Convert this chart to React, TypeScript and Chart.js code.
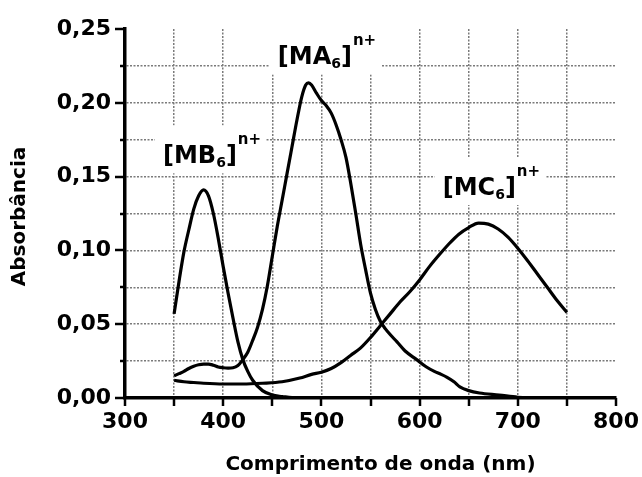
import { useEffect, useRef } from "react";
import { Chart, registerables } from "chart.js";

Chart.register(...registerables);

// ---- data ----
const mb6Wavelength = [350, 355, 360, 365, 370, 375, 380, 385, 390, 395, 400, 405, 410, 415, 420, 425, 430, 440, 450, 460, 475, 500];
const mb6Absorbance = [0.057, 0.079, 0.099, 0.114, 0.128, 0.137, 0.141, 0.137, 0.125, 0.108, 0.089, 0.071, 0.054, 0.038, 0.026, 0.018, 0.012, 0.005, 0.002, 0.001, 0.0, 0.0];

const ma6Wavelength = [350, 355, 360, 365, 370, 375, 380, 385, 390, 395, 400, 405, 410, 415, 420, 425, 430, 435, 440, 445, 450, 455, 460, 465, 470, 475, 480, 484, 487, 490, 495, 500, 505, 510, 515, 520, 525, 530, 535, 540, 545, 550, 555, 560, 565, 570, 577, 585, 597, 607, 615, 622, 628, 635, 641, 650, 661, 681, 700, 720, 750];
const ma6Absorbance = [0.015, 0.0165, 0.018, 0.020, 0.0215, 0.0225, 0.023, 0.023, 0.0222, 0.021, 0.0205, 0.0203, 0.0205, 0.022, 0.026, 0.031, 0.039, 0.048, 0.060, 0.076, 0.096, 0.116, 0.134, 0.152, 0.170, 0.188, 0.204, 0.212, 0.2135, 0.212, 0.2065, 0.2015, 0.198, 0.193, 0.185, 0.175, 0.163, 0.145, 0.125, 0.104, 0.087, 0.071, 0.060, 0.052, 0.047, 0.043, 0.038, 0.032, 0.026, 0.021, 0.018, 0.016, 0.014, 0.011, 0.0075, 0.005, 0.0034, 0.002, 0.0005, 0.0, 0.0];

const mc6Wavelength = [350, 360, 370, 380, 400, 420, 440, 460, 478, 490, 500, 510, 520, 530, 540, 550, 560, 570, 580, 590, 600, 610, 620, 630, 640, 650, 660, 670, 680, 690, 700, 710, 720, 730, 740, 750];
const mc6Absorbance = [0.012, 0.011, 0.0105, 0.010, 0.0095, 0.0095, 0.010, 0.011, 0.0135, 0.016, 0.0175, 0.020, 0.024, 0.029, 0.034, 0.041, 0.049, 0.057, 0.065, 0.072, 0.080, 0.089, 0.097, 0.1045, 0.111, 0.1155, 0.1185, 0.1178, 0.1145, 0.109, 0.1015, 0.093, 0.084, 0.075, 0.066, 0.058];

// complex labels: main text, subscript, superscript, anchor (wavelength, absorbance of baseline)
const labelMain = ["MA", "MB", "MC"];
const labelSub = ["6", "6", "6"];
const labelSup = ["n+", "n+", "n+"];
const labelAnchorX = [455.6, 338.7, 623.5];
const labelAnchorY = [0.226, 0.159, 0.1375];

const xAxisTitle = "Comprimento de onda (nm)";
const yAxisTitle = "Absorbância";

const FAMILY = "'DejaVu Sans', 'Liberation Sans', sans-serif";

function toPoints(xs: number[], ys: number[]) {
  return xs.map((x, i) => ({ x, y: ys[i] }));
}

const overlayPlugin = {
  id: "overlay",
  beforeDatasetsDraw(chart: any) {
    const { ctx, scales } = chart;
    const xs = scales.x;
    const ys = scales.y;
    ctx.save();
    for (let i = 0; i < labelMain.length; i++) {
      const px = xs.getPixelForValue(labelAnchorX[i]);
      const py = ys.getPixelForValue(labelAnchorY[i]);
      const mainFont = `bold 24px ${FAMILY}`;
      const subFont = `bold 14px ${FAMILY}`;
      const supFont = `bold 15px ${FAMILY}`;
      ctx.font = mainFont;
      const wOpen = ctx.measureText("[").width;
      const wMain = ctx.measureText(labelMain[i]).width;
      const wClose = ctx.measureText("]").width;
      ctx.font = subFont;
      const wSub = ctx.measureText(labelSub[i]).width;
      ctx.font = supFont;
      const wSup = ctx.measureText(labelSup[i]).width;
      const total = wOpen + wMain + wSub + wClose + wSup;
      ctx.fillStyle = "#ffffff";
      ctx.fillRect(px - 8, py - 38, total + 14, 48);
      ctx.fillStyle = "#000000";
      ctx.textBaseline = "alphabetic";
      ctx.textAlign = "left";
      let cx = px;
      ctx.font = mainFont;
      ctx.fillText("[" + labelMain[i], cx, py);
      cx += wOpen + wMain;
      ctx.font = subFont;
      ctx.fillText(labelSub[i], cx, py + 4);
      cx += wSub;
      ctx.font = mainFont;
      ctx.fillText("]", cx, py);
      cx += wClose + 1;
      ctx.font = supFont;
      ctx.fillText(labelSup[i], cx, py - 19);
    }
    ctx.restore();
  },
  afterDraw(chart: any) {
    const { ctx, scales, chartArea } = chart;
    const xs = scales.x;
    const ys = scales.y;
    ctx.save();
    ctx.strokeStyle = "#000";
    ctx.lineWidth = 2.5;
    ys.ticks.forEach((t: any) => {
      const p = Math.round(ys.getPixelForValue(t.value));
      const major = Math.round(t.value * 1000) % 50 === 0;
      const len = major ? 10 : 5;
      ctx.beginPath();
      ctx.moveTo(chartArea.left - len, p);
      ctx.lineTo(chartArea.left, p);
      ctx.stroke();
    });
    xs.ticks.forEach((t: any) => {
      const p = Math.round(xs.getPixelForValue(t.value));
      ctx.beginPath();
      ctx.moveTo(p, chartArea.bottom);
      ctx.lineTo(p, chartArea.bottom + 8);
      ctx.stroke();
    });
    // axis titles
    ctx.fillStyle = "#000";
    ctx.font = `bold 20px ${FAMILY}`;
    ctx.textAlign = "center";
    ctx.textBaseline = "middle";
    ctx.fillText(xAxisTitle, (chartArea.left + chartArea.right) / 2 + 10, 465);
    ctx.translate(20, (chartArea.top + chartArea.bottom) / 2 + 3);
    ctx.rotate(-Math.PI / 2);
    ctx.fillText(yAxisTitle, 0, 0);
    ctx.restore();
  },
};

export default function App() {
  const canvasRef = useRef<HTMLCanvasElement | null>(null);

  useEffect(() => {
    const canvas = canvasRef.current;
    if (!canvas) return;
    const isBound = (v: number, a: number, b: number) =>
      Math.abs(v - a) < 1e-9 || Math.abs(v - b) < 1e-9;
    const lineStyle = {
      borderColor: "#000000",
      borderWidth: 3.2,
      pointRadius: 0,
      fill: false,
      tension: 0.4,
      cubicInterpolationMode: "monotone" as const,
    };
    const chart = new Chart(canvas, {
      type: "line",
      data: {
        datasets: [
          { label: "[MB6]n+", data: toPoints(mb6Wavelength, mb6Absorbance), ...lineStyle },
          { label: "[MA6]n+", data: toPoints(ma6Wavelength, ma6Absorbance), ...lineStyle },
          { label: "[MC6]n+", data: toPoints(mc6Wavelength, mc6Absorbance), ...lineStyle },
        ],
      },
      options: {
        responsive: false,
        animation: false,
        layout: { padding: { top: 29, right: 26, bottom: 0, left: 0 } },
        plugins: { legend: { display: false }, tooltip: { enabled: false } },
        scales: {
          x: {
            type: "linear",
            min: 300,
            max: 800,
            afterFit: (s: any) => {
              s.height = 79;
            },
            ticks: {
              stepSize: 50,
              autoSkip: false,
              maxRotation: 0,
              padding: 0,
              color: "#000",
              font: { family: FAMILY, size: 22, weight: "bold" },
              callback: (v: any) => (Math.round(Number(v)) % 100 === 0 ? String(v) : ""),
            },
            grid: {
              drawTicks: true,
              tickLength: 11,
              tickColor: "rgba(0,0,0,0)",
              lineWidth: 1.5,
              color: (c: any) => (isBound(c.tick?.value, 300, 800) ? "rgba(0,0,0,0)" : "#7a7a7a"),
            },
            border: { display: true, color: "#000", width: 3.5, dash: [2, 1.5] },
          },
          y: {
            type: "linear",
            min: 0,
            max: 0.25,
            afterFit: (s: any) => {
              s.width = 125;
            },
            ticks: {
              stepSize: 0.025,
              autoSkip: false,
              padding: 0,
              color: "#000",
              font: { family: FAMILY, size: 22, weight: "bold" },
              callback: (v: any) => {
                const r = Math.round(Number(v) * 1000);
                return r % 50 === 0 ? (r / 1000).toFixed(2).replace(".", ",") : "";
              },
            },
            grid: {
              drawTicks: true,
              tickLength: 14,
              tickColor: "rgba(0,0,0,0)",
              lineWidth: 1.5,
              color: (c: any) => (isBound(c.tick?.value, 0, 0.25) ? "rgba(0,0,0,0)" : "#7a7a7a"),
            },
            border: { display: true, color: "#000", width: 3.5, dash: [2, 1.5] },
          },
        },
      },
      plugins: [overlayPlugin],
    });
    return () => chart.destroy();
  }, []);

  return (
    <div style={{ position: "absolute", left: 0, top: 0, width: 642, height: 477, background: "#fff" }}>
      <canvas ref={canvasRef} width={642} height={477} style={{ display: "block" }} />
    </div>
  );
}
